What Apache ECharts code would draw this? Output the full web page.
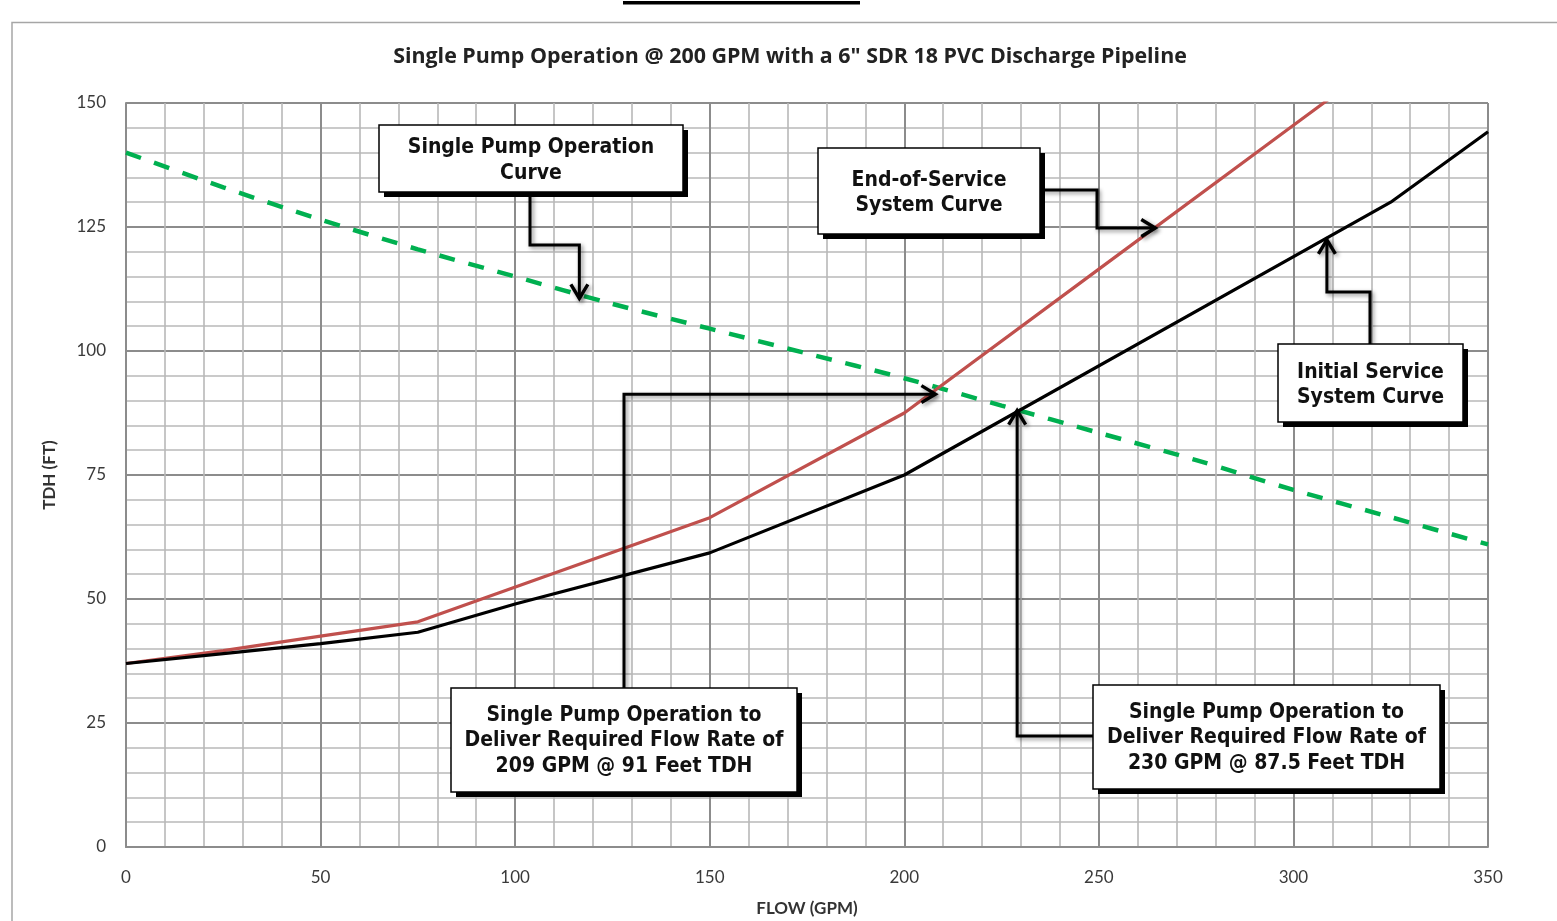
<!DOCTYPE html>
<html><head><meta charset="utf-8">
<script src="https://cdn.jsdelivr.net/npm/echarts@6/dist/echarts.min.js"></script>
<style>html,body{margin:0;padding:0;background:#fff;}#c{width:1557px;height:921px;}</style>
</head><body><div id="c"></div>
<script>
// ---- data ----
const flowTicks = [0, 50, 100, 150, 200, 250, 300, 350];
const tdhTicks = [0, 25, 50, 75, 100, 125, 150];
const pumpFlow = [0, 25, 50, 75, 100, 125, 150, 175, 200, 225, 250, 275, 300, 325, 350];
const pumpTDH  = [140, 133, 126.5, 120.5, 115, 109.5, 104.5, 99.5, 94.5, 89, 83.5, 78, 72, 66.5, 61];
const endFlow = [0, 25, 50, 75, 150, 200, 250, 300, 350];
const endTDH  = [37, 39.6, 42.5, 45.4, 66.4, 87.5, 116.5, 145.5, 174.5];
const initFlow = [0, 25, 50, 75, 100, 150, 200, 325, 350];
const initTDH  = [37, 39, 41, 43.3, 49, 59.3, 75, 130, 144.2];
const titleText = 'Single Pump Operation @ 200 GPM with a 6" SDR 18 PVC Discharge Pipeline';
const notes = [
  {lines:['Single Pump Operation','Curve'], tip:[116.5,110.6]},
  {lines:['End-of-Service','System Curve'], tip:[264.5,124.8]},
  {lines:['Initial Service','System Curve'], tip:[308.6,122.4]},
  {lines:['Single Pump Operation to','Deliver Required Flow Rate of','209 GPM @ 91 Feet TDH'], tip:[208,91.3]},
  {lines:['Single Pump Operation to','Deliver Required Flow Rate of','230 GPM @ 87.5 Feet TDH'], tip:[229,88]}
];
// ---- layout of annotation boxes (pixels) ----
const noteLayout = [
  {box:[379,125,304,67], path:[[530,192],[530,245],[null,245]], last:'v', dy:2},
  {box:[818,148,222,86], path:[[1040,190],[1097,190],[1097,null]], last:'h', dy:2},
  {box:[1278,344,185,78], path:[[1370,344],[1370,292],[null,292]], last:'v', dy:2},
  {box:[451,688,346,104], path:[[624,688],[624,null]], last:'h', dy:1},
  {box:[1093,685,347,104], path:[[1093,736],[null,736]], last:'v', dy:1}
];

const zip = (a,b)=>a.map((v,i)=>[v,b[i]]);
const chart = echarts.init(document.getElementById('c'));
const lblFont = {fontFamily:'Lato', fontSize:17, color:'#3a3a3a'};
chart.setOption({
  animation:false,
  backgroundColor:'#fff',
  title:{text:titleText, left:785, top:41, textAlign:'center',
    textStyle:{fontFamily:'Open Sans', fontWeight:'bold', fontSize:21.4, color:'#222'}},
  grid:{left:126, right:69, top:103, bottom:74, containLabel:false, outerBoundsMode:'none'},
  xAxis:{type:'value', min:0, max:350, interval:50,
    name:'FLOW (GPM)', nameLocation:'middle', nameGap:53, nameMoveOverlap:false,
    nameTextStyle:{fontFamily:'Lato', fontWeight:'bold', fontSize:17, color:'#333'},
    axisLine:{show:true, lineStyle:{color:'#8c8c8c', width:2}},
    axisTick:{show:false}, minorTick:{show:false, splitNumber:5},
    axisLabel:Object.assign({margin:22, formatter:v=>flowTicks.includes(v)?String(v):''}, lblFont),
    splitLine:{show:true, lineStyle:{color:'#8c8c8c', width:2}},
    minorSplitLine:{show:true, lineStyle:{color:'#b8b8b8', width:1.6}}},
  yAxis:{type:'value', min:0, max:150, interval:25,
    name:'TDH (FT)', nameLocation:'middle', nameGap:68, nameRotate:90, nameMoveOverlap:false,
    nameTextStyle:{fontFamily:'Lato', fontWeight:'bold', fontSize:17, color:'#333'},
    axisLine:{show:true, lineStyle:{color:'#8c8c8c', width:2}},
    axisTick:{show:false}, minorTick:{show:false, splitNumber:5},
    axisLabel:Object.assign({margin:20, formatter:v=>tdhTicks.includes(v)?String(v):''}, lblFont),
    splitLine:{show:true, lineStyle:{color:'#8c8c8c', width:2}},
    minorSplitLine:{show:true, lineStyle:{color:'#b8b8b8', width:1.6}}},
  series:[
    {name:'Pump', type:'line', data:zip(pumpFlow,pumpTDH), showSymbol:false, smooth:0.3,
     lineStyle:{color:'#00B050', width:4.5, type:[16,14]}, z:3},
    {name:'End', type:'line', data:zip(endFlow,endTDH), showSymbol:false, clip:true,
     lineStyle:{color:'#C0504D', width:3.2}, z:4},
    {name:'Initial', type:'line', data:zip(initFlow,initTDH), showSymbol:false,
     lineStyle:{color:'#000', width:3.2}, z:4}
  ]
});

// ---- annotations ----
const g = [];
g.push({type:'polyline', shape:{points:[[12,921],[12,22.5],[1557,22.5]]}, style:{stroke:'#a6a6a6', lineWidth:1.5, fill:null}, z:1});
g.push({type:'rect', shape:{x:623,y:1,width:237,height:3.5}, style:{fill:'#000'}, z:1});
const fontStr = 'bold 21px "DejaVu Sans Condensed", "DejaVu Sans", sans-serif';
notes.forEach((n,i)=>{
  const L = noteLayout[i];
  const tip = chart.convertToPixel({gridIndex:0}, n.tip);
  const pts = L.path.map(p=>p.slice());
  const last = pts[pts.length-1];
  if (L.last==='v') { last[0]=tip[0]; } else { last[1]=tip[1]; }
  pts.push(tip);
  const shadow = {shadowBlur:4, shadowColor:'rgba(0,0,0,0.45)', shadowOffsetX:2, shadowOffsetY:2};
  g.push({type:'polyline', shape:{points:pts}, style:Object.assign({stroke:'#000', lineWidth:3, fill:null, lineJoin:'miter'}, shadow), z:20});
  const prev = pts[pts.length-2];
  const dx = tip[0]-prev[0], dy = tip[1]-prev[1];
  const len = Math.hypot(dx,dy), ux = dx/len, uy = dy/len;
  const hs = 14, hw = 8.5;
  const a1 = [tip[0]-ux*hs-uy*hw, tip[1]-uy*hs+ux*hw];
  const a2 = [tip[0]-ux*hs+uy*hw, tip[1]-uy*hs-ux*hw];
  g.push({type:'polyline', shape:{points:[a1,tip,a2]}, style:Object.assign({stroke:'#000', lineWidth:3.4, fill:null, lineJoin:'miter'}, shadow), z:20});
  const [bx,by,bw,bh] = L.box;
  g.push({type:'rect', shape:{x:bx+5,y:by+5,width:bw,height:bh}, style:{fill:'#000'}, z:21});
  g.push({type:'rect', shape:{x:bx,y:by,width:bw,height:bh}, style:{fill:'#fff', stroke:'#000', lineWidth:1.5}, z:22});
  const lh = 25.5;
  const y0 = by + bh/2 - (n.lines.length-1)*lh/2 + L.dy;
  n.lines.forEach((t,k)=>{
    g.push({type:'text', x:bx+bw/2, y:y0+k*lh, style:{text:t, font:fontStr, fill:'#111', align:'center', verticalAlign:'middle'}, z:23});
  });
});
chart.setOption({graphic:g});
</script>
</body></html>
